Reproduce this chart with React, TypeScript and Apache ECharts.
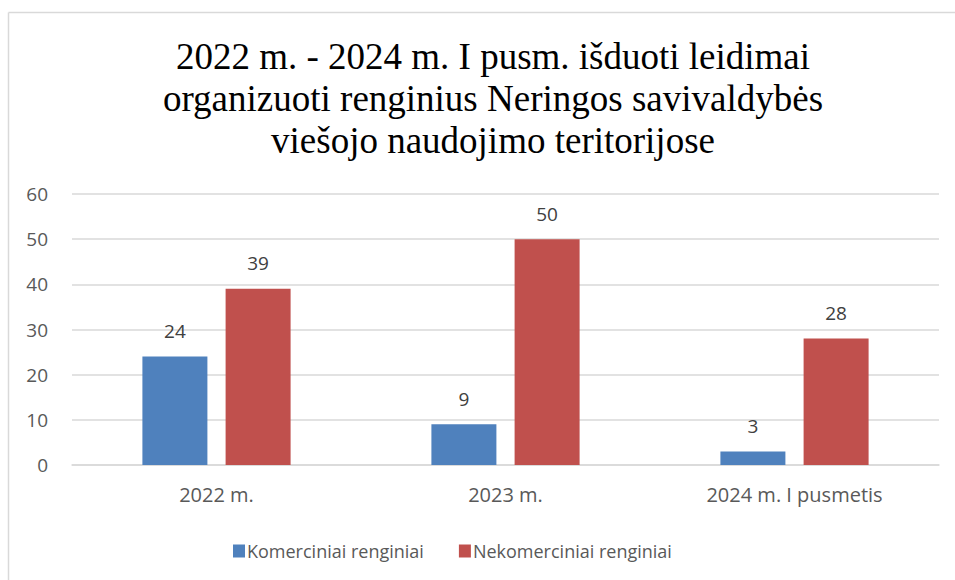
import React, { useEffect, useRef } from "react";
import * as echarts from "echarts";

const categories = ["2022 m.", "2023 m.", "2024 m. I pusmetis"];
const seriesNames = ["Komerciniai renginiai", "Nekomerciniai renginiai"];
const komerciniai = [24, 9, 3];
const nekomerciniai = [39, 50, 28];
const titleText =
  "2022 m. - 2024 m. I pusm. išduoti leidimai\norganizuoti renginius Neringos savivaldybės\nviešojo naudojimo teritorijose";

export default function App() {
  const ref = useRef<HTMLDivElement>(null);
  useEffect(() => {
    if (!ref.current) return;
    const chart = echarts.init(ref.current, undefined, { renderer: "svg" });
    const font = "'Open Sans', 'Noto Sans', sans-serif";
    const labelStyle = { show: true, position: "top", distance: 16, fontFamily: font, fontSize: 19, color: "#404040" };
    chart.setOption({
      animation: false,
      backgroundColor: "#ffffff",
      title: {
        text: titleText,
        left: 488,
        top: 30,
        textAlign: "center",
        textStyle: {
          fontFamily: "'Liberation Serif', 'Times New Roman', serif",
          fontSize: 37,
          fontWeight: "normal",
          color: "#000000",
          lineHeight: 42,
        },
      },
      graphic: [
        { type: "line", shape: { x1: 8.5, y1: 12.5, x2: 960, y2: 12.5 }, style: { stroke: "#d9d9d9", lineWidth: 1.5 } },
        { type: "line", shape: { x1: 8.5, y1: 12.5, x2: 8.5, y2: 590 }, style: { stroke: "#d9d9d9", lineWidth: 1.5 } },
      ],
      legend: {
        data: seriesNames,
        left: 228,
        top: 537,
        itemWidth: 12,
        itemHeight: 13,
        itemGap: 35,
        icon: "rect",
        textStyle: { fontFamily: font, fontSize: 18, color: "#595959", padding: [0, 0, 0, -3] },
      },
      grid: { left: 72, right: 16, top: 194, bottom: 115, containLabel: false },
      xAxis: {
        type: "category",
        data: categories,
        axisLine: { lineStyle: { color: "#d9d9d9", width: 1.5 } },
        axisTick: { show: false },
        axisLabel: { fontFamily: font, fontSize: 20, color: "#595959", margin: 19 },
      },
      yAxis: {
        type: "value",
        min: 0,
        max: 60,
        interval: 10,
        axisLine: { show: false },
        axisTick: { show: false },
        splitLine: { lineStyle: { color: "#d9d9d9", width: 1.5 } },
        axisLabel: { fontFamily: font, fontSize: 19, color: "#595959", margin: 24 },
      },
      series: [
        {
          name: seriesNames[0],
          type: "bar",
          data: komerciniai,
          barWidth: 65,
          barGap: "28%",
          itemStyle: { color: "#4f81bd" },
          label: labelStyle,
        },
        {
          name: seriesNames[1],
          type: "bar",
          data: nekomerciniai,
          barWidth: 65,
          barGap: "28%",
          itemStyle: { color: "#c0504d" },
          label: labelStyle,
        },
      ],
    });
    return () => chart.dispose();
  }, []);
  return (
    <div
      ref={ref}
      style={{ position: "fixed", left: 0, top: 0, width: 955, height: 580 }}
    />
  );
}
